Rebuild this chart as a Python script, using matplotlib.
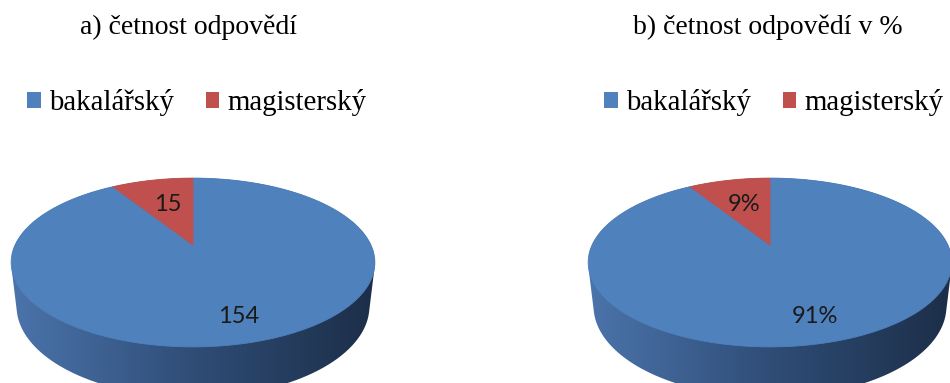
import numpy as np
import matplotlib
matplotlib.use("Agg")
import matplotlib.pyplot as plt
from matplotlib.patches import Polygon, Patch
from matplotlib.colors import LinearSegmentedColormap
from matplotlib.font_manager import FontProperties

# survey answers: study programme of respondents
categories = ['bakalářský', 'magisterský']
counts = [154, 15]
titles = ['a) četnost odpovědí', 'b) četnost odpovědí v %']

colors = ['#4F81BD', '#C0504D']
side_cmap = LinearSegmentedColormap.from_list('side', ['#4b74ab', '#2f4d77', '#1c2e48'])

W, H_PX = 950, 383
fig = plt.figure(figsize=(W / 100, H_PX / 100), dpi=100)

# perspective camera for the 3d pie
TILT = np.radians(27)
DIST = 4.3
FOCAL = 765
DEPTH = 0.28


def project(cx, cy, X, Z, Y=0.0):
    yc = Y * np.cos(TILT) + Z * np.sin(TILT)
    zc = DIST + Z * np.cos(TILT) - Y * np.sin(TILT)
    return cx + FOCAL * X / zc, cy - FOCAL * yc / zc


def hull(pts):
    pts = sorted(map(tuple, pts))

    def half(seq):
        out = []
        for p in seq:
            while len(out) >= 2 and ((out[-1][0] - out[-2][0]) * (p[1] - out[-2][1])
                                     - (out[-1][1] - out[-2][1]) * (p[0] - out[-2][0])) <= 0:
                out.pop()
            out.append(p)
        return out

    lo, up = half(pts), half(pts[::-1])
    return np.array(lo[:-1] + up[:-1])


def pie3d(ax, cx, cy, values, labels, label_r):
    th = np.linspace(0, 2 * np.pi, 721)
    top = np.column_stack(project(cx, cy, np.sin(th), np.cos(th)))
    bot = np.column_stack(project(cx, cy, np.sin(th), np.cos(th), -DEPTH))
    side = Polygon(hull(np.vstack([top, bot])), closed=True, facecolor='none', edgecolor='none')
    ax.add_patch(side)
    x0, x1 = bot[:, 0].min() - 5, bot[:, 0].max() + 5
    grad = np.linspace(0, 1, 256)[None, :]
    im = ax.imshow(grad, cmap=side_cmap, aspect='auto',
                   extent=(x0, x1, bot[:, 1].max() + 5, top[:, 1].min()), zorder=1)
    im.set_clip_path(side)

    total = sum(values)
    start = 0.0
    for i, v in enumerate(values):
        span = 2 * np.pi * v / total
        a = np.linspace(start, start + span, max(int(np.degrees(span) * 2), 2))
        xs, ys = project(cx, cy, np.sin(a), np.cos(a))
        pts = np.column_stack([np.r_[cx, xs], np.r_[cy, ys]])
        ax.add_patch(Polygon(pts, closed=True, facecolor=colors[i], edgecolor=colors[i],
                             linewidth=0.6, zorder=2))
        mid = start + span / 2
        lx, ly = project(cx, cy, label_r[i] * np.sin(mid), label_r[i] * np.cos(mid))
        ax.text(lx, ly, labels[i], ha='center', va='center', fontsize=17,
                family=['Lato', 'DejaVu Sans'], color='#1a1a1a', zorder=3)
        start += span


total = sum(counts)
pie_labels = [
    [str(c) for c in counts],
    [f'{round(100 * c / total)}%' for c in counts],
]
centers = [193, 295]
title_x = [189, 293]
serif = FontProperties(family='Liberation Serif', size=20)

for k in range(2):
    ax = fig.add_axes([k * 0.5, 0, 0.5, 1])
    ax.set_xlim(0, W / 2)
    ax.set_ylim(H_PX, 0)
    ax.axis('off')

    pie3d(ax, centers[k], 245, counts, pie_labels[k], [0.78, 0.58])

    ax.text(title_x[k], 27, titles[k], ha='center', va='center',
            fontproperties=serif, color='black')

    handles = [Patch(facecolor=c, edgecolor='none') for c in colors]
    leg_x = 27 if k == 0 else 604 - 475
    ax.legend(handles, categories, loc='center left', bbox_to_anchor=(leg_x, 103),
              bbox_transform=ax.transData, ncol=2, frameon=False,
              prop=FontProperties(family='Liberation Serif', size=20.8),
              handlelength=0.48, handleheight=0.48, handletextpad=0.28,
              columnspacing=1.1, borderpad=0, borderaxespad=0)

fig.savefig('out.png', dpi=100)
